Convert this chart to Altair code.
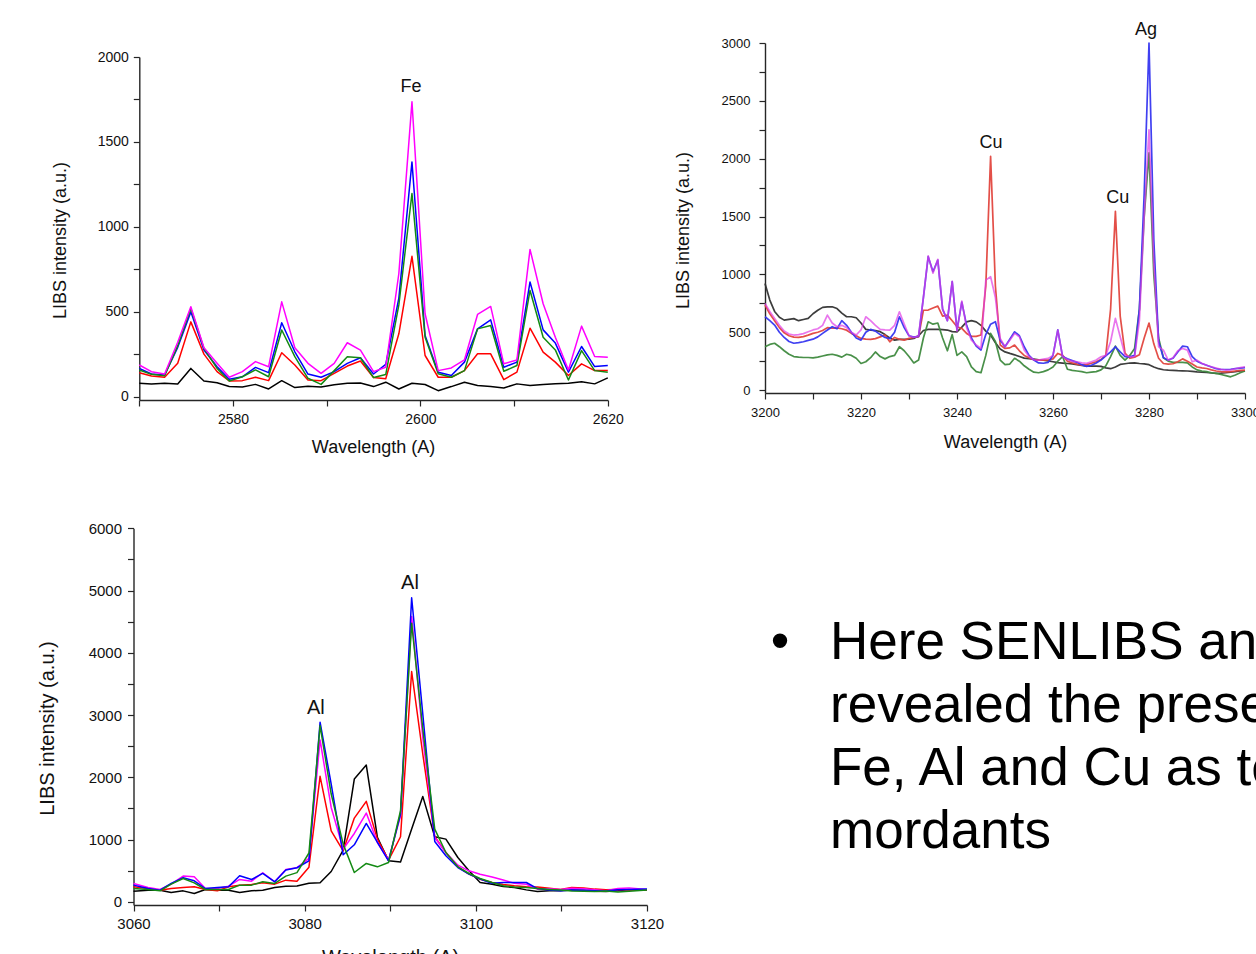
import altair as alt
import pandas as pd

FONT = "Liberation Sans"

# ---------------- Panel 1 (Fe region) ----------------
p1_x = [2570.0, 2571.3, 2572.7, 2574.1, 2575.5, 2576.9, 2578.3, 2579.6, 2581.0, 2582.4,
        2583.8, 2585.2, 2586.6, 2588.0, 2589.4, 2590.8, 2592.2, 2593.6, 2595.0, 2596.3,
        2597.7, 2599.1, 2600.5, 2601.9, 2603.3, 2604.7, 2606.1, 2607.5, 2608.9, 2610.3,
        2611.7, 2613.1, 2614.4, 2615.8, 2617.2, 2618.6, 2620.0]
p1_black = [78, 74, 78, 74, 166, 92, 82, 59, 57, 72, 45, 94, 53, 61, 57, 70, 78, 80, 59, 85,
            45, 79, 71, 35, 59, 85, 65, 59, 51, 75, 65, 71, 75, 79, 88, 75, 110]
p1_red = [141, 121, 114, 196, 440, 250, 147, 92, 94, 114, 94, 258, 186, 98, 94, 137, 180, 210, 112, 105,
          370, 826, 242, 114, 114, 153, 252, 252, 100, 144, 403, 262, 203, 124, 193, 153, 153]
p1_green = [157, 131, 123, 300, 519, 284, 166, 92, 117, 157, 117, 392, 235, 108, 72, 153, 235, 229, 112, 130,
            540, 1196, 350, 134, 114, 153, 399, 419, 149, 183, 625, 350, 275, 98, 271, 153, 144]
p1_blue = [166, 133, 127, 290, 499, 274, 176, 102, 117, 172, 141, 435, 264, 133, 114, 147, 196, 229, 133, 190,
           580, 1382, 360, 144, 124, 203, 399, 452, 173, 203, 675, 393, 315, 144, 295, 177, 183]
p1_magenta = [186, 147, 133, 320, 529, 288, 196, 114, 147, 206, 176, 558, 288, 196, 137, 196, 317, 274, 147, 173,
              725, 1736, 488, 153, 169, 216, 484, 531, 193, 216, 867, 547, 350, 157, 415, 236, 232]

# ---------------- Panel 2 (Cu / Ag region) ----------------
p2_x = [3200, 3201, 3202, 3203, 3204, 3205, 3206, 3207, 3208, 3209,
        3210, 3211, 3212, 3213, 3214, 3215, 3216, 3217, 3218, 3219,
        3220, 3221, 3222, 3223, 3224, 3225, 3226, 3227, 3228, 3229,
        3230, 3231, 3232, 3233, 3234, 3235, 3236, 3237, 3238, 3239,
        3240, 3241, 3242, 3243, 3244, 3245, 3246, 3247, 3248, 3249,
        3250, 3251, 3252, 3253, 3254, 3255, 3256, 3257, 3258, 3259,
        3260, 3261, 3262, 3263, 3264, 3265, 3266, 3267, 3268, 3269,
        3270, 3271, 3272, 3273, 3274, 3275, 3276, 3277, 3278, 3279,
        3280, 3281, 3282, 3283, 3284, 3285, 3286, 3287, 3288, 3289,
        3290, 3291, 3292, 3293, 3294, 3295, 3296, 3297, 3298, 3299, 3300]
p2_black = [922, 778, 680, 630, 605, 612, 618, 600, 610, 620,
            660, 690, 715, 720, 720, 705, 665, 634, 634, 625,
            580, 525, 519, 515, 505, 480, 450, 432, 438, 438,
            440, 447, 470, 515, 525, 525, 525, 522, 519, 505,
            504, 545, 590, 600, 590, 560, 510, 475, 410, 355,
            330, 317, 305, 290, 276, 272, 268, 262, 258, 252,
            245, 238, 234, 230, 226, 220, 214, 208, 208, 208,
            205, 192, 185, 200, 222, 228, 234, 235, 230, 226,
            220, 200, 185, 176, 172, 170, 168, 167, 165, 162,
            158, 155, 152, 148, 144, 146, 150, 156, 160, 165, 167]
p2_red = [735, 660, 600, 540, 495, 470, 458, 455, 462, 475,
          490, 500, 515, 540, 535, 538, 530, 518, 490, 470,
          447, 440, 438, 445, 460, 476, 418, 455, 440, 432,
          447, 455, 460, 690, 692, 710, 726, 640, 648, 600,
          548, 533, 490, 465, 465, 476, 900, 2020, 900, 390,
          360, 365, 389, 340, 300, 280, 262, 259, 259, 260,
          270, 317, 300, 250, 235, 225, 216, 220, 232, 245,
          265, 300, 700, 1545, 640, 320, 275, 285, 305, 450,
          580, 400, 275, 230, 225, 228, 245, 270, 250, 225,
          200, 192, 187, 175, 165, 160, 158, 160, 165, 170, 173]
p2_green = [375, 395, 405, 375, 340, 310, 290, 285, 282, 282,
            278, 285, 295, 305, 310, 300, 285, 310, 300, 275,
            230, 245, 280, 330, 290, 270, 290, 300, 375, 340,
            290, 235, 260, 450, 590, 570, 580, 450, 340, 480,
            300, 330, 290, 200, 160, 150, 300, 490, 420, 260,
            220, 225, 275, 250, 210, 180, 155, 150, 160, 175,
            200, 250, 290, 180, 170, 165, 160, 150, 155, 160,
            175, 210, 290, 380, 300, 260, 300, 360, 700, 1500,
            2050, 1000, 450, 280, 250, 240, 240, 240, 235, 200,
            175, 165, 160, 150, 145, 135, 125, 115, 130, 150, 165]
p2_blue = [634, 600, 562, 500, 455, 420, 405, 410, 418, 430,
           440, 460, 490, 520, 548, 530, 600, 560, 500, 450,
           432, 500, 525, 510, 480, 455, 445, 500, 634, 540,
           470, 458, 465, 800, 1153, 1023, 1124, 700, 600, 937,
           519, 760, 560, 450, 380, 346, 480, 570, 591, 430,
           375, 440, 504, 470, 375, 300, 260, 235, 232, 240,
           300, 520, 290, 270, 255, 240, 220, 205, 215, 235,
           260, 295, 330, 375, 330, 290, 288, 300, 700, 1700,
           3000, 1300, 420, 280, 260, 275, 330, 380, 375, 290,
           250, 230, 215, 200, 185, 178, 178, 180, 185, 190, 195]
p2_magenta = [750, 680, 620, 560, 510, 485, 476, 480, 488, 505,
              520, 530, 560, 648, 580, 548, 560, 540, 500, 476,
              520, 634, 600, 560, 525, 520, 519, 560, 677, 570,
              470, 455, 470, 800, 1160, 1010, 1130, 700, 600, 940,
              510, 770, 540, 432, 390, 360, 951, 980, 800, 447,
              375, 430, 490, 461, 346, 290, 262, 259, 268, 274,
              300, 519, 288, 265, 250, 245, 235, 231, 245, 260,
              288, 300, 420, 620, 461, 303, 288, 290, 600, 1500,
              2250, 1100, 375, 346, 259, 280, 340, 360, 346, 245,
              259, 231, 215, 202, 190, 180, 173, 175, 185, 195, 202]

# ---------------- Panel 3 (Al region) ----------------
p3_x = [3060.0, 3061.7, 3063.1, 3064.4, 3065.8, 3067.1, 3068.4, 3069.8, 3071.1, 3072.4,
        3073.8, 3075.1, 3076.5, 3077.8, 3079.1, 3080.5, 3081.8, 3083.1, 3084.5, 3085.8,
        3087.2, 3088.5, 3089.8, 3091.2, 3092.5, 3093.8, 3095.2, 3096.5, 3097.9, 3099.2,
        3100.5, 3101.9, 3103.2, 3104.5, 3105.9, 3107.2, 3108.6, 3109.9, 3111.2, 3112.6,
        3113.9, 3115.2, 3116.6, 3117.9, 3120.0]
p3_black = [172, 188, 188, 150, 177, 134, 199, 188, 188, 150, 177, 188, 231, 253, 255, 300, 306, 488, 831, 1973,
            2198, 1035, 660, 640, 1169, 1694, 1046, 1008, 713, 499, 311, 284, 247, 231, 193, 166, 177, 180, 190, 185,
            170, 165, 180, 200, 190]
p3_red = [242, 215, 188, 215, 231, 242, 199, 177, 242, 269, 280, 306, 285, 349, 330, 558, 2016, 1142, 820, 1346,
          1614, 1008, 670, 1046, 3700, 2375, 1046, 794, 563, 445, 365, 311, 280, 260, 245, 240, 220, 200, 231, 225,
          205, 195, 200, 190, 195]
p3_green = [215, 199, 177, 285, 376, 306, 199, 199, 199, 269, 269, 323, 296, 414, 470, 785, 2831, 1732, 928, 472,
            617, 563, 633, 1464, 4477, 2778, 1169, 794, 563, 456, 375, 311, 260, 240, 230, 215, 200, 190, 175, 170,
            165, 175, 160, 170, 190]
p3_blue = [269, 215, 188, 296, 387, 339, 215, 231, 242, 419, 360, 457, 323, 511, 548, 660, 2885, 1893, 756, 917,
           1260, 954, 660, 1410, 4885, 3019, 971, 740, 552, 445, 365, 300, 310, 311, 311, 214, 190, 180, 190, 185,
           180, 175, 195, 200, 205]
p3_magenta = [296, 231, 199, 285, 414, 403, 215, 215, 253, 360, 333, 468, 323, 521, 550, 700, 2601, 1517, 847, 1099,
              1426, 954, 670, 1383, 4585, 2643, 1035, 794, 590, 499, 445, 400, 350, 300, 284, 204, 210, 200, 220, 210,
              195, 180, 215, 225, 200]

# ---------------- Annotations ----------------
p1_labels = ["Fe"]
p1_label_x = [2599.0]
p1_label_y = [1823]
p2_labels = ["Cu", "Cu", "Ag"]
p2_label_x = [3247.1, 3273.5, 3279.4]
p2_label_y = [2136, 1660, 3112]
p3_labels = ["Al", "Al"]
p3_label_x = [3081.3, 3092.3]
p3_label_y = [3114, 5122]

bullet_lines = ["Here SENLIBS analysis", "revealed the presence of", "Fe, Al and Cu as textile", "mordants"]

AX = "#262626"


def long_df(x, series):
    rows = []
    for name, color, opac, vals in series:
        for xv, yv in zip(x, vals):
            rows.append({"wl": xv, "val": yv, "series": name, "col": color, "op": opac})
    return pd.DataFrame(rows)


def make_panel(df, lab_df, xdom, xrange, ydom, yrange, xticks, yticks, xmod, ymod,
               tick_fs, title_fs, ann_fs, xlabpad, ylabpad, xoff, yoff,
               xtitle_pos, ytitle_pos, sw):
    xscale = alt.Scale(domain=xdom, range=xrange, nice=False, zero=False)
    yscale = alt.Scale(domain=ydom, range=yrange, nice=False, zero=False)
    common = dict(grid=False, format="d", labelFlush=False, labelOverlap=False,
                  labelFont=FONT, labelFontSize=tick_fs, labelColor="#111",
                  titleFont=FONT, titleFontSize=title_fs, titleFontWeight="normal", titleColor="#111",
                  domainColor=AX, domainWidth=1.4, tickColor=AX, tickWidth=1.2, tickSize=6)
    xaxis = alt.Axis(orient="bottom", offset=xoff, values=xticks,
                     labelExpr=f"datum.value % {xmod} == 0 ? datum.label : ''",
                     labelPadding=xlabpad, title="Wavelength (A)",
                     titleX=xtitle_pos[0], titleY=xtitle_pos[1], titleBaseline="middle", **common)
    yaxis = alt.Axis(orient="left", offset=yoff, values=yticks,
                     labelExpr=f"datum.value % {ymod} == 0 ? datum.label : ''",
                     labelPadding=ylabpad, title="LIBS intensity (a.u.)",
                     titleX=ytitle_pos[0], titleY=ytitle_pos[1], titleBaseline="middle",
                     titleAngle=270, **common)
    lines = alt.Chart(df).mark_line(strokeWidth=sw, strokeJoin="round").encode(
        x=alt.X("wl:Q", scale=xscale, axis=xaxis),
        y=alt.Y("val:Q", scale=yscale, axis=yaxis),
        color=alt.Color("col:N", scale=None),
        opacity=alt.Opacity("op:Q", scale=None),
        detail="series:N",
    )
    texts = alt.Chart(lab_df).mark_text(font=FONT, fontSize=ann_fs, color="#111", baseline="middle").encode(
        x=alt.X("lx:Q", scale=xscale, axis=None),
        y=alt.Y("ly:Q", scale=yscale, axis=None),
        text="t:N",
    )
    return [lines, texts]


df1 = long_df(p1_x, [("black", "#000000", 1, p1_black), ("red", "#ff0000", 1, p1_red),
                     ("blue", "#0000ff", 1, p1_blue), ("green", "#138a13", 1, p1_green),
                     ("magenta", "#ff00ff", 1, p1_magenta)])
df2 = long_df(p2_x, [("black", "#333333", 0.95, p2_black), ("green", "#3f8a3f", 0.95, p2_green),
                     ("red", "#e2463e", 0.95, p2_red), ("blue", "#3636f0", 0.95, p2_blue),
                     ("magenta", "#e03ce6", 0.7, p2_magenta)])
df3 = long_df(p3_x, [("black", "#000000", 1, p3_black), ("red", "#ff0000", 1, p3_red),
                     ("magenta", "#ff00ff", 1, p3_magenta), ("blue", "#0000ff", 1, p3_blue),
                     ("green", "#138a13", 1, p3_green)])

lab1 = pd.DataFrame({"t": p1_labels, "lx": p1_label_x, "ly": p1_label_y})
lab2 = pd.DataFrame({"t": p2_labels, "lx": p2_label_x, "ly": p2_label_y})
lab3 = pd.DataFrame({"t": p3_labels, "lx": p3_label_x, "ly": p3_label_y})

W, H = 1256, 954

panel1 = make_panel(df1, lab1, [2570, 2620], [139.3, 607.8], [-20, 2000], [400, 57],
                    [2570, 2580, 2590, 2600, 2610, 2620], list(range(0, 2001, 250)), 20, 500,
                    14, 18, 18, 6, 5, 400 - H, -139.3, (373, 47), (-79, 240), 1.5)
panel2 = make_panel(df2, lab2, [3200, 3300], [765, 1245], [-25, 3000], [393, 43],
                    list(range(3200, 3301, 10)), list(range(0, 3001, 250)), 20, 500,
                    13, 18, 18, 7, 9, 393 - H, -765, (1005, 49), (-82, 230), 1.7)
panel3 = make_panel(df3, lab3, [3060, 3120], [133.5, 647], [-50, 6000], [905, 528.3],
                    list(range(3060, 3121, 10)), list(range(0, 6001, 500)), 20, 1000,
                    15, 20, 20, 5, 6, 905 - H, -133.5, (390, 52), (-86, 728), 1.5)

bullet = alt.Chart(pd.DataFrame({"t": ["\u2022"]})).mark_text(
    font=FONT, fontSize=53, align="center", baseline="alphabetic", color="#000"
).encode(x=alt.value(780), y=alt.value(659), text="t:N")

body = alt.Chart(pd.DataFrame({"k": [0]})).mark_text(
    font=FONT, fontSize=53, align="left", baseline="alphabetic", color="#000",
    text=bullet_lines, lineHeight=63
).encode(x=alt.value(830), y=alt.value(659))

chart = alt.layer(*panel1, *panel2, *panel3, bullet, body).resolve_scale(
    x="independent", y="independent"
).properties(
    width=W, height=H, padding=0, autosize=alt.AutoSizeParams(type="none"), background="white"
).configure_view(strokeWidth=0)

chart.save("out.html", embed_options={"renderer": "svg", "actions": False})
